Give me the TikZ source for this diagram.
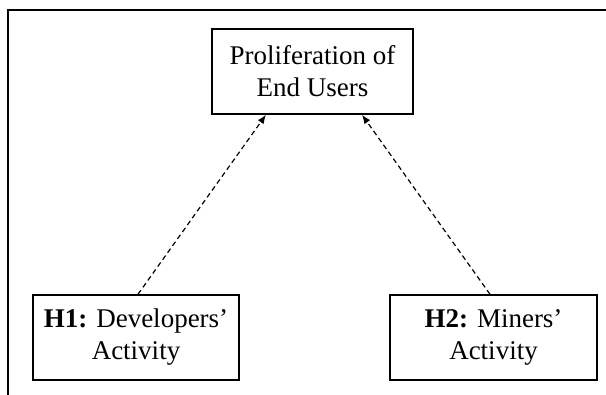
\documentclass[tikz,border=0pt]{standalone}
\usepackage{fontspec}
\setmainfont{Liberation Serif}
\usetikzlibrary{arrows.meta,calc}
\tikzset{
  box/.style={draw, line width=1.5pt, rectangle, minimum height=85pt, inner sep=0pt, align=center, font=\fontsize{27}{32}\selectfont},
  link/.style={dashed, dash pattern=on 5pt off 3.5pt, line width=1.2pt, -{Latex[length=9pt,width=7pt]}},
  frame/.style={line width=2.2pt}
}
\begin{document}
\begin{tikzpicture}[x=1pt,y=-1pt]
\useasboundingbox (0,0) rectangle (606,395);
\coordinate (fl) at (8,395);
\coordinate (fc) at (8,10);
\coordinate (fr) at (606,10);
\draw[frame] (fl) -- (fc) -- (fr);
\node[box, minimum width=201pt] (top) at (312.5,71.5) {Proliferation of\\End Users};
\node[box, minimum width=206pt] (h1) at (136,337.5) {\textbf{H1:} Developers’\\Activity};
\node[box, minimum width=207pt] (h2) at (493.5,337.5) {\textbf{H2:} Miners’\\Activity};
\draw[link] ([xshift=2pt]h1.north) -- ([xshift=-46.5pt]top.south);
\draw[link] ([xshift=-3.5pt]h2.north) -- ([xshift=49.5pt]top.south);
\end{tikzpicture}
\end{document}
